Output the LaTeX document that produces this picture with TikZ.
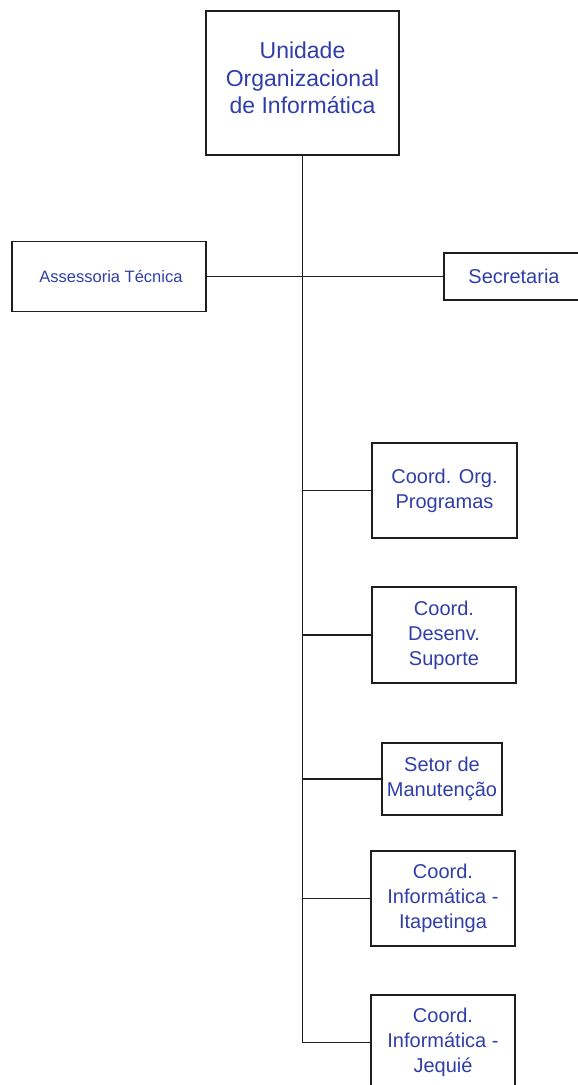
\documentclass[tikz,border=0pt]{standalone}
\usepackage{fontspec}
\setmainfont{Liberation Sans}
\definecolor{txtblue}{RGB}{48,62,168}
\definecolor{linegray}{RGB}{30,30,30}
\begin{document}
\begin{tikzpicture}[x=1pt,y=-1pt,
  box/.style={draw=linegray, line width=1.3pt, text=txtblue, align=center, inner sep=0pt,
    font=\fontsize{20}{25}\selectfont},
  conn/.style={draw=linegray, line width=1.3pt}]
\useasboundingbox (0,0) rectangle (578,1085);
\clip (0,0) rectangle (578,1085);
\fill[white] (0,0) rectangle (578,1085);
\node[box, minimum width=193pt, minimum height=144pt] (top) at (302.5,83) {};
\node[text=txtblue, align=center, inner sep=0pt, font=\fontsize{23}{27.5}\selectfont] (toptext) at (302.5,78) {Unidade\\Organizacional\\de Informática};
\node[box, minimum width=194pt, minimum height=70pt, font=\fontsize{16.5}{19}\selectfont] (ass) at (109,276.5) {\hspace{4pt}Assessoria Técnica};
\node[box, minimum width=140pt, minimum height=47pt] (sec) at (514,276.5) {Secretaria};
\node[box, minimum width=145pt, minimum height=95pt] (org) at (444.5,490.5) {Coord. Org.\\Programas};
\node[box, minimum width=144pt, minimum height=96pt] (dev) at (444,635) {Coord.\\Desenv.\\Suporte};
\node[box, minimum width=120pt, minimum height=72pt] (set) at (442,779) {Setor de\\Manutenção};
\node[box, minimum width=144pt, minimum height=95pt] (ita) at (443,898.5) {Coord.\\Informática -\\Itapetinga};
\node[box, minimum width=144pt, minimum height=95pt] (jeq) at (443,1042.5) {Coord.\\Informática -\\Jequié};
\coordinate (tend) at (top.south |- jeq.west);
\draw[conn] (top.south) -- (tend);
\draw[conn] (ass.east) -- (sec.west);
\draw[conn] (top.south |- org.west) -- (org.west);
\draw[conn] (top.south |- dev.west) -- (dev.west);
\draw[conn] (top.south |- set.west) -- (set.west);
\draw[conn] (top.south |- ita.west) -- (ita.west);
\draw[conn] (tend) -- (jeq.west);
\end{tikzpicture}
\end{document}
